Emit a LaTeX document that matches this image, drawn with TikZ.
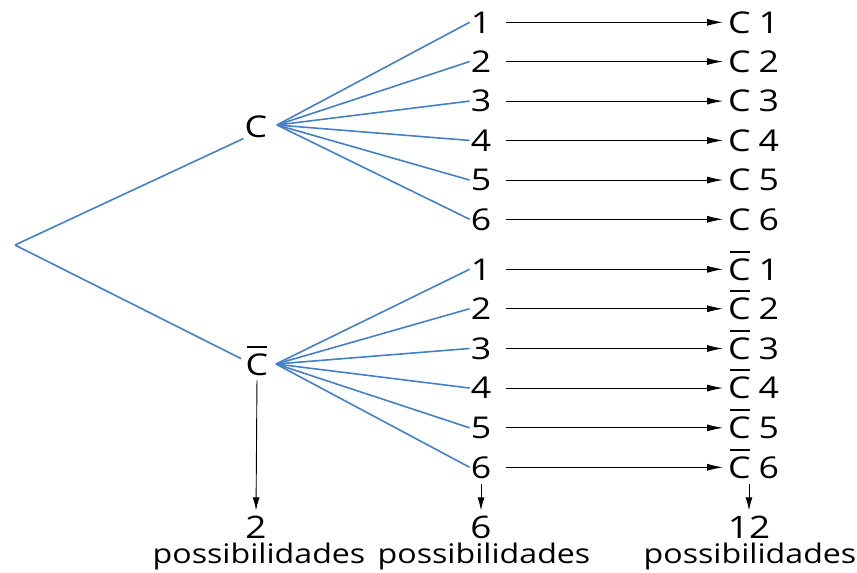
\documentclass[tikz,border=0pt]{standalone}
\usepackage{fontspec}
\setmainfont{Open Sans}[FakeStretch=1.19]
\usetikzlibrary{arrows.meta}
\definecolor{treeblue}{RGB}{68,128,198}
\tikzstyle{branch} = [draw=treeblue, line width=1.6pt]
\tikzstyle{line} = [draw, line width=0.9pt, -{Latex[length=16pt,width=7pt]}, shorten >=4pt]
\tikzstyle{vline} = [draw, line width=0.9pt, -{Latex[length=13pt,width=7pt]}]
\tikzstyle{lbl} = [font=\fontsize{30}{32}\selectfont, inner sep=1pt, anchor=base]
\tikzstyle{total} = [font=\fontsize{31}{33}\selectfont, inner sep=0pt, anchor=base]
\tikzstyle{poss} = [font=\fontsize{27}{29}\selectfont, inner sep=0pt, anchor=base]
\newcommand{\cneg}{\makebox[0pt][l]{\hspace{1.5pt}\rule[27.5pt]{20pt}{2pt}}C}

\begin{document}
\begin{tikzpicture}[x=1pt,y=-1pt]
    \useasboundingbox (0,0) rectangle (857,573);
    \coordinate (root) at (15,245);
    \node[lbl] (c) at (256,137) {C};
    \node[lbl] (cbar) at (257,375) {\cneg};
    \coordinate (cfan) at (277,125);
    \coordinate (cbarfan) at (276,364);

    \path[branch] (root) -- (c.south west);
    \path[branch, shorten >=4pt] (root) -- (cbar.west);

    \foreach \i in {1,...,6}
    {
        \node[lbl] (t\i) at (481,{33+39.4*(\i-1)}) {\i};
        \node[lbl,anchor=base west] (rt\i) at (727,{33+39.4*(\i-1)}) {C\hskip8pt\i};
        \path[branch] (cfan) -- (t\i.west);
        \path[line] (t\i.east) ++(14,0) -- (t\i.east -| rt\i.west);

        \node[lbl] (b\i) at (481,{280+39.6*(\i-1)}) {\i};
        \node[lbl,anchor=base west] (rb\i) at (727,{280+39.6*(\i-1)}) {\cneg\hskip8pt\i};
        \path[branch] (cbarfan) -- (b\i.west);
        \path[line] (b\i.east) ++(14,0) -- (b\i.east -| rb\i.west);
    };

    % totals
    \node[total] (tot1) at (256,538) {2};
    \node[total] (tot2) at (481,538) {6};
    \node[total] (tot3) at (749,538) {12};
    \node[poss] (p1) at (259,563) {possibilidades};
    \node[poss] (p2) at (484,563) {possibilidades};
    \node[poss] (p3) at (750,563) {possibilidades};

    \path[vline, shorten <=4pt, shorten >=5pt] (cbar.south) -- (tot1.north);
    \path[vline, shorten <=5pt, shorten >=5pt] (b6.south) -- (tot2.north);
    \path[vline, shorten <=5pt, shorten >=5pt] (rb6.south -| tot3) -- (tot3.north);
\end{tikzpicture}
\end{document}
